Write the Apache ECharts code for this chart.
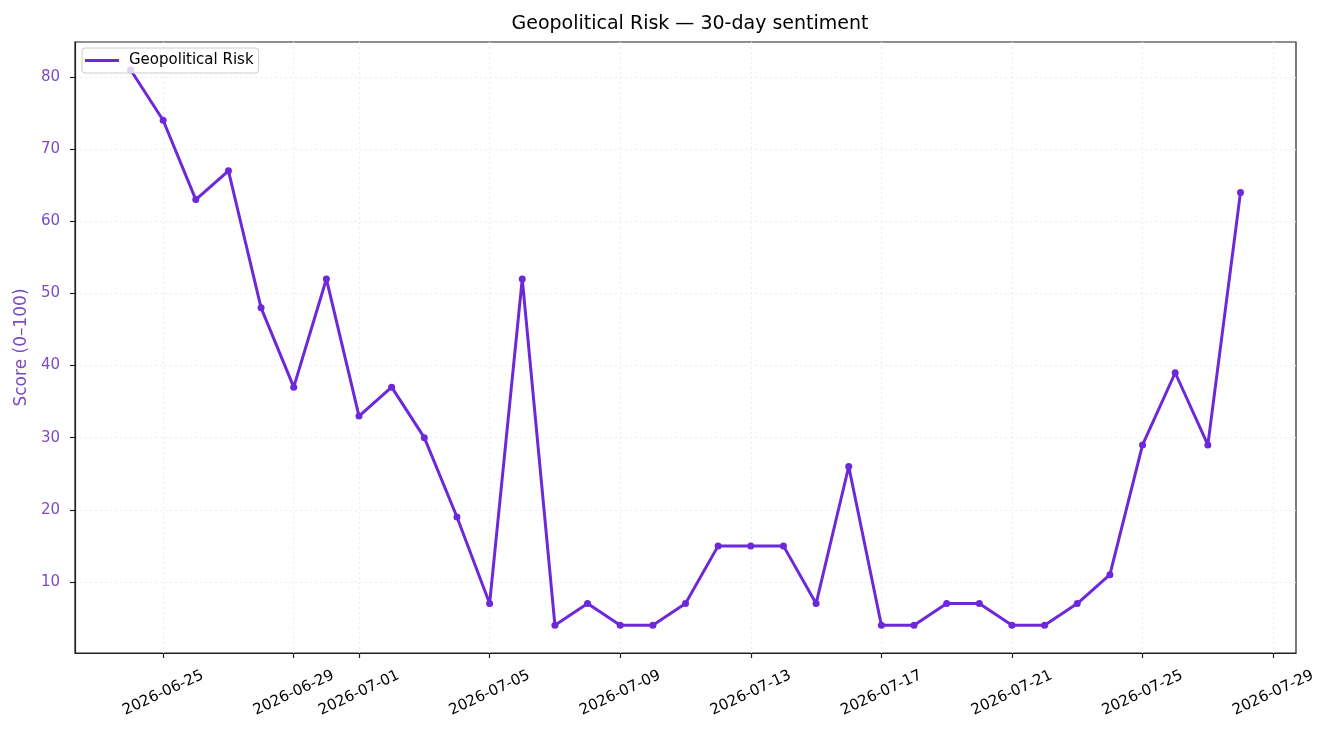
<!DOCTYPE html>
<html>
<head>
<meta charset="utf-8">
<script src="https://cdn.jsdelivr.net/npm/echarts@6/dist/echarts.min.js"></script>
<style>
  html, body { margin: 0; padding: 0; background: #fff; }
  #main { width: 1331px; height: 735px; }
</style>
</head>
<body>
<div id="main"></div>
<script>
var dates = [
    '2026-06-24', '2026-06-25', '2026-06-26', '2026-06-27', '2026-06-28', '2026-06-29', '2026-06-30',
    '2026-07-01', '2026-07-02', '2026-07-03', '2026-07-04', '2026-07-05', '2026-07-06', '2026-07-07',
    '2026-07-08', '2026-07-09', '2026-07-10', '2026-07-11', '2026-07-12', '2026-07-13', '2026-07-14',
    '2026-07-15', '2026-07-16', '2026-07-17', '2026-07-18', '2026-07-19', '2026-07-20', '2026-07-21',
    '2026-07-22', '2026-07-23', '2026-07-24', '2026-07-25', '2026-07-26', '2026-07-27', '2026-07-28'
];
var scores = [
    81, 74, 63, 67, 48, 37, 52,
    33, 37, 30, 19, 7, 52, 4,
    7, 4, 4, 7, 15, 15, 15,
    7, 26, 4, 4, 7, 7, 4,
    4, 7, 11, 29, 39, 29, 64
];
var xTickLabels = [
    '2026-06-25', '2026-06-29', '2026-07-01', '2026-07-05', '2026-07-09',
    '2026-07-13', '2026-07-17', '2026-07-21', '2026-07-25', '2026-07-29'
];
var yTicks = [10, 20, 30, 40, 50, 60, 70, 80];

var DAY = 86400000;
var t0 = Date.parse(dates[0]);
function dayIndex(d) {
    return Math.round((Date.parse(d) - t0) / DAY);
}
function dayLabel(v) {
    var d = new Date(t0 + Math.round(v) * DAY);
    return d.toISOString().slice(0, 10);
}

var seriesData = [];
for (var i = 0; i < dates.length; i++) {
    seriesData.push([dayIndex(dates[i]), scores[i]]);
}
var xTicks = xTickLabels.map(dayIndex);

// matplotlib style 5% margins
var xSpan = dayIndex(dates[dates.length - 1]);
var yMinD = Math.min.apply(null, scores), yMaxD = Math.max.apply(null, scores);
var ySpan = yMaxD - yMinD;

var lineColor = '#6d28d9';
var labelPurple = '#7a4cc2';
var font = 'DejaVu Sans';

var myChart = echarts.init(document.getElementById('main'));
var option = {
    animation: false,
    backgroundColor: '#fff',
    textStyle: { fontFamily: font },
    title: {
        text: 'Geopolitical Risk — 30-day sentiment',
        left: 685,
        textAlign: 'center',
        top: 10,
        textStyle: { fontFamily: font, fontSize: 19, fontWeight: 'normal', color: '#000' }
    },
    legend: {
        data: ['Geopolitical Risk'],
        left: 82,
        top: 48,
        orient: 'vertical',
        icon: 'rect',
        itemWidth: 34,
        itemHeight: 3,
        itemGap: 4,
        padding: [5, 5, 5, 3],
        borderColor: '#cccccc',
        borderWidth: 1,
        borderRadius: 3,
        backgroundColor: 'rgba(255,255,255,0.8)',
        textStyle: { fontFamily: font, fontSize: 15, color: '#000', padding: [0, 0, 0, 5] }
    },
    grid: {
        left: 75,
        right: 35,
        top: 42,
        bottom: 82,
        show: true,
        borderColor: '#222',
        borderWidth: 1.2,
        containLabel: false
    },
    xAxis: {
        type: 'value',
        min: -0.05 * xSpan,
        max: xSpan * 1.05,
        axisLine: { show: true, onZero: false, lineStyle: { color: '#222', width: 1.2 } },
        axisTick: {
            show: true,
            length: 5,
            customValues: xTicks,
            lineStyle: { color: '#222', width: 1.2 }
        },
        axisLabel: {
            customValues: xTicks,
            formatter: function (v) { return dayLabel(v); },
            rotate: 25,
            align: 'center',
            verticalAlign: 'middle',
            margin: 40,
            fontFamily: font,
            fontSize: 15,
            color: '#000'
        },
        splitLine: {
            show: true,
            lineStyle: { color: '#ececec', type: [2, 3], width: 1 }
        }
    },
    yAxis: {
        type: 'value',
        min: yMinD - 0.05 * ySpan,
        max: yMaxD + 0.05 * ySpan,
        name: 'Score (0–100)',
        nameLocation: 'middle',
        nameGap: 45,
        nameTextStyle: { fontFamily: font, fontSize: 17, color: labelPurple },
        axisLine: { show: true, onZero: false, lineStyle: { color: '#222', width: 1.2 } },
        axisTick: {
            show: true,
            length: 5,
            customValues: yTicks,
            lineStyle: { color: '#222', width: 1.2 }
        },
        axisLabel: {
            customValues: yTicks,
            margin: 15,
            fontFamily: font,
            fontSize: 15,
            color: labelPurple
        },
        splitLine: {
            show: true,
            lineStyle: { color: '#ececec', type: [2, 3], width: 1 }
        }
    },
    series: [{
        name: 'Geopolitical Risk',
        type: 'line',
        data: seriesData,
        symbol: 'circle',
        symbolSize: 7,
        color: lineColor,
        lineStyle: { color: lineColor, width: 3 },
        itemStyle: { color: lineColor },
        z: 2
    }]
};

myChart.setOption(option);
</script>
</body>
</html>
